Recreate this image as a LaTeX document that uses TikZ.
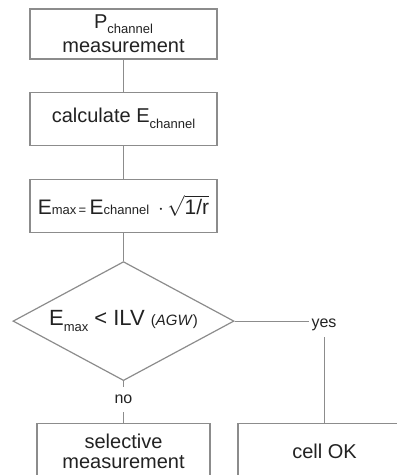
\documentclass[tikz,border=0pt]{standalone}
\usepackage{fontspec}
\setmainfont{Liberation Sans}
\usetikzlibrary{positioning, shapes.geometric}
\definecolor{lgray}{HTML}{8C8C8C}
\definecolor{ink}{HTML}{222222}
\newcommand{\lo}[2][0.3em]{\raisebox{-#1}{\fontsize{13}{13}\selectfont #2}}

\begin{document}
\begin{tikzpicture}[x=1pt, y=-1pt,
        every node/.style={text=ink, font=\fontsize{20}{23}\selectfont},
        box/.style={draw=lgray, line width=1.2pt, rectangle, minimum width=187pt, minimum height=53pt, align=center, inner sep=2pt},
        check/.style={draw=lgray, line width=1.2pt, diamond, aspect=1.86, minimum width=221pt, minimum height=119pt, inner sep=0pt},
        tag/.style={font=\fontsize{16}{16}\selectfont, inner sep=2pt, minimum height=24pt},
        link/.style={draw=lgray, line width=1.2pt}]
        \useasboundingbox (0,0) rectangle (397,475);
        \clip (0,0) rectangle (397,475);

        \node[box, minimum height=50pt, font=\fontsize{20}{24}\selectfont] (P) at (123.5,34) {P\lo[0.22em]{channel}\\measurement};
        \node[box, below=32pt of P] (C) {calculate E\lo{channel}};
        \node[box, below=33pt of C, font=\fontsize{21}{23}\selectfont] (E) {E\lo[0em]{max\,=}\,E\lo[0em]{channel}\hspace{9pt}$\cdot$\,$\sqrt{\mbox{1/r}}$};
        \node[check, below=28pt of E, font=\fontsize{22}{24}\selectfont] (D) {E\lo[0.25em]{max} < ILV {\fontsize{15}{15}\selectfont(\textit{AGW})}};
        \node[box, minimum width=173pt, minimum height=56pt, anchor=north, font=\fontsize{20}{20}\selectfont] (S) at (123.5,423) {selective\\measurement};
        \node[box, minimum width=173pt, minimum height=56pt, anchor=north] (K) at (324.5,423) {cell OK};

        \node[tag, minimum height=25pt] (N) at (123.5,399.5) {no};
        \node[tag] (Y) at (324,325) {yes};

        \draw[link] (P) -- (C);
        \draw[link] (C) -- (E);
        \draw[link] (E) -- (D);
        \draw[link] (D) -- (N);
        \draw[link] (N) -- (S);
        \draw[link] (D.east) -- (D.east -| Y.west);
        \draw[link] (Y.south -| K.north) -- (K.north);
    \end{tikzpicture}
\end{document}
